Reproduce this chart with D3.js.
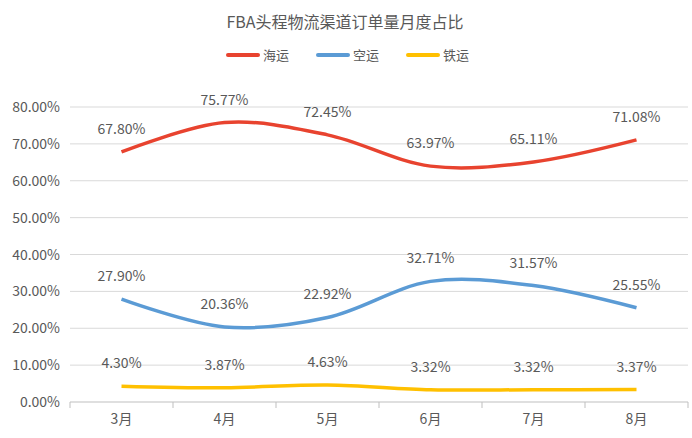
<!DOCTYPE html>
<html><head><meta charset="utf-8">
<script src="https://cdn.jsdelivr.net/npm/d3@7/dist/d3.min.js"></script>
<style>body{margin:0;background:#fff}text{font-family:"Noto Sans CJK SC","Noto Sans",sans-serif}</style>
</head><body><svg id="c" width="692" height="438"></svg>
<script>
const categories=["3月","4月","5月","6月","7月","8月"];
const seriesNames=["海运","空运","铁运"];
const seaValues=[67.80,75.77,72.45,63.97,65.11,71.08];
const airValues=[27.90,20.36,22.92,32.71,31.57,25.55];
const railValues=[4.30,3.87,4.63,3.32,3.32,3.37];
const yTicks=[0,10,20,30,40,50,60,70,80];
const colors=["#E8432F","#5B9BD5","#FFC000"];
const svg=d3.select("#c");
const x=d3.scaleBand().domain(categories).range([70,688]);
const y=d3.scaleLinear().domain([0,80]).range([402,107]);
const tc="#595959";
svg.append("text").attr("x",345).attr("y",28).attr("text-anchor","middle").attr("font-size",16).attr("fill",tc).text("FBA头程物流渠道订单量月度占比");
// legend
const lx=[228,318,408];
seriesNames.forEach((n,i)=>{
  svg.append("line").attr("x1",lx[i]).attr("x2",lx[i]+30).attr("y1",55).attr("y2",55).attr("stroke",colors[i]).attr("stroke-width",4).attr("stroke-linecap","round");
  svg.append("text").attr("x",lx[i]+35).attr("y",60).attr("font-size",13).attr("fill",tc).text(n);
});
// grid
yTicks.forEach(t=>{
  svg.append("line").attr("x1",70).attr("x2",688).attr("y1",y(t)).attr("y2",y(t)).attr("stroke",t===0?"#bfbfbf":"#d9d9d9");
  svg.append("text").attr("x",60).attr("y",y(t)+5).attr("text-anchor","end").attr("font-size",14).attr("fill",tc).text(t.toFixed(2)+"%");
});
// x axis
const ax=svg.append("g").attr("transform","translate(0,402)").call(d3.axisBottom(x).tickSize(0).tickPadding(12));
ax.select(".domain").remove();
ax.selectAll("text").attr("font-size",14).attr("fill",tc).style("font-family",'"Noto Sans CJK SC",sans-serif');
categories.concat([null]).forEach((c,i)=>{
  const xx=70+i*x.step();
  svg.append("line").attr("x1",xx).attr("x2",xx).attr("y1",402).attr("y2",408).attr("stroke","#bfbfbf");
});
const line=d3.line().x((d,i)=>x(categories[i])+x.bandwidth()/2).y(d=>y(d)).curve(d3.curveCatmullRom.alpha(0.5));
[seaValues,airValues,railValues].forEach((vals,s)=>{
  svg.append("path").attr("d",line(vals)).attr("fill","none").attr("stroke",colors[s]).attr("stroke-width",3.5);
  vals.forEach((v,i)=>{
    svg.append("text").attr("x",x(categories[i])+x.bandwidth()/2).attr("y",y(v)-18).attr("text-anchor","middle").attr("font-size",14).attr("fill",tc).text(v.toFixed(2)+"%");
  });
});
</script></body></html>
